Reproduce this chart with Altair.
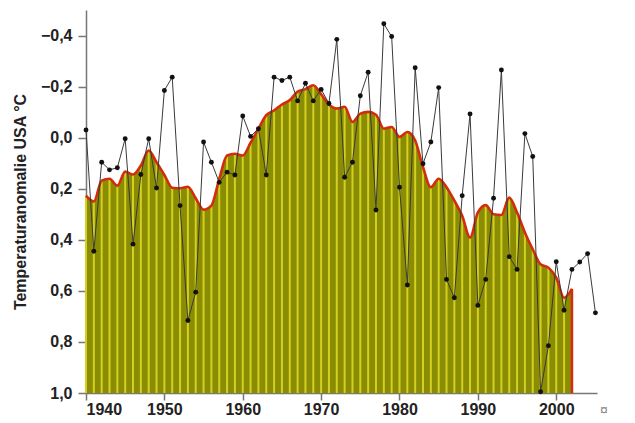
import altair as alt
import pandas as pd

years = list(range(1940, 2006))
anomaly = [
    -0.03, 0.445, 0.096, 0.126, 0.118, 0.004, 0.417, 0.144, 0.004, 0.197,
    -0.185, -0.237, 0.266, 0.716, 0.605, 0.017, 0.096, 0.175, 0.135, 0.146,
    -0.085, -0.005, -0.035, 0.146, -0.237, -0.224, -0.237, -0.144, -0.213, -0.144,
    -0.189, -0.134, -0.385, 0.155, 0.096, -0.164, -0.256, 0.283, -0.446, -0.396,
    0.194, 0.577, -0.274, 0.102, 0.017, -0.196, 0.555, 0.627, 0.227, -0.093,
    0.657, 0.555, 0.237, -0.265, 0.466, 0.516, -0.016, 0.074, 0.995, 0.815,
    0.486, 0.676, 0.516, 0.487, 0.454, 0.686,
]

smooth_years = list(range(1940, 2003))
smooth = [
    0.227, 0.25, 0.168, 0.161, 0.188, 0.133, 0.144, 0.109, 0.05, 0.096,
    0.146, 0.196, 0.198, 0.192, 0.237, 0.282, 0.266, 0.161, 0.07, 0.063,
    0.07, 0.02, -0.035, -0.088, -0.107, -0.13, -0.147, -0.18, -0.19, -0.205,
    -0.17, -0.13, -0.114, -0.121, -0.062, -0.094, -0.101, -0.09, -0.035, -0.042,
    -0.003, -0.022, 0.011, 0.115, 0.194, 0.161, 0.194, 0.247, 0.306, 0.391,
    0.293, 0.264, 0.3, 0.303, 0.235, 0.293, 0.371, 0.437, 0.496, 0.509,
    0.548, 0.627, 0.592,
]

y_ticks = [round(-0.4 + 0.1 * i, 1) for i in range(15)]
x_ticks = list(range(1940, 2006, 5))

df = pd.DataFrame({"year": years, "anomaly": anomaly})
ds = pd.DataFrame({"year": smooth_years, "smooth": smooth})

xscale = alt.Scale(domain=[1940, 2005.2], nice=False, zero=False)
yscale = alt.Scale(domain=[-0.5, 1.0], reverse=True, nice=False, zero=False)

xaxis = alt.Axis(
    values=x_ticks,
    labelExpr="datum.value % 10 == 0 ? format(datum.value, 'd') : ''",
    tickSize={"condition": {"test": "datum.value % 10 == 0", "value": 7}, "value": 4},
    title=None,
    grid=False,
    labelPadding=1,
)
yaxis = alt.Axis(
    values=y_ticks,
    labelExpr="round(datum.value*10) % 2 == 0 ? replace(format(datum.value, '.1f'), '.', ',') : ''",
    tickSize={"condition": {"test": "round(datum.value*10) % 2 == 0", "value": 8}, "value": 4},
    title="Temperaturanomalie USA °C",
    grid=False,
    labelPadding=6,
)

x = alt.X("year:Q", scale=xscale, axis=xaxis)

area = alt.Chart(ds).mark_area(color="#8a8d02", opacity=1, interpolate="monotone").encode(
    x=x,
    y=alt.Y("smooth:Q", scale=yscale, axis=yaxis),
    y2=alt.datum(1.0),
)

stripes = alt.Chart(ds).mark_rule(color="#d4cf22", strokeWidth=2).encode(
    x=alt.X("year:Q", scale=xscale),
    y=alt.Y("smooth:Q", scale=yscale),
    y2=alt.datum(1.0),
)

red = alt.Chart(ds).mark_line(color="#d42c0e", strokeWidth=2.6, interpolate="monotone").encode(
    x=alt.X("year:Q", scale=xscale),
    y=alt.Y("smooth:Q", scale=yscale),
)

red_end = alt.Chart(ds).transform_filter(
    alt.datum.year == smooth_years[-1]
).mark_rule(color="#d42c0e", strokeWidth=2.6).encode(
    x=alt.X("year:Q", scale=xscale),
    y=alt.Y("smooth:Q", scale=yscale),
    y2=alt.datum(1.0),
)

line = alt.Chart(df).mark_line(color="#3a3a3a", strokeWidth=1).encode(
    x=alt.X("year:Q", scale=xscale),
    y=alt.Y("anomaly:Q", scale=yscale),
)

dots = alt.Chart(df).mark_circle(color="#111111", size=24, opacity=1).encode(
    x=alt.X("year:Q", scale=xscale),
    y=alt.Y("anomaly:Q", scale=yscale),
)

glyph = alt.Chart(pd.DataFrame({"t": ["¤"]})).mark_text(
    color="#888888", fontSize=14, align="center", baseline="middle"
).encode(text="t:N", x=alt.value(518), y=alt.value(401))

chart = alt.layer(area, stripes, red, red_end, line, dots, glyph).properties(
    width=511,
    height=383,
    autosize=alt.AutoSizeParams(type="none"),
    padding={"left": 78, "top": 2, "right": 30, "bottom": 25},
).configure_view(stroke=None).configure_axis(
    labelFont="Liberation Sans",
    labelFontWeight="bold",
    labelFontSize=16,
    labelColor="#222222",
    titleFont="Liberation Sans",
    titleFontWeight="bold",
    titleFontSize=16,
    titleColor="#222222",
    domainColor="#777777",
    tickColor="#777777",
    domainWidth=1.5,
    tickWidth=1.5,
    titlePadding=12,
)

chart.save("out.html", embed_options={"renderer": "svg", "actions": False})
